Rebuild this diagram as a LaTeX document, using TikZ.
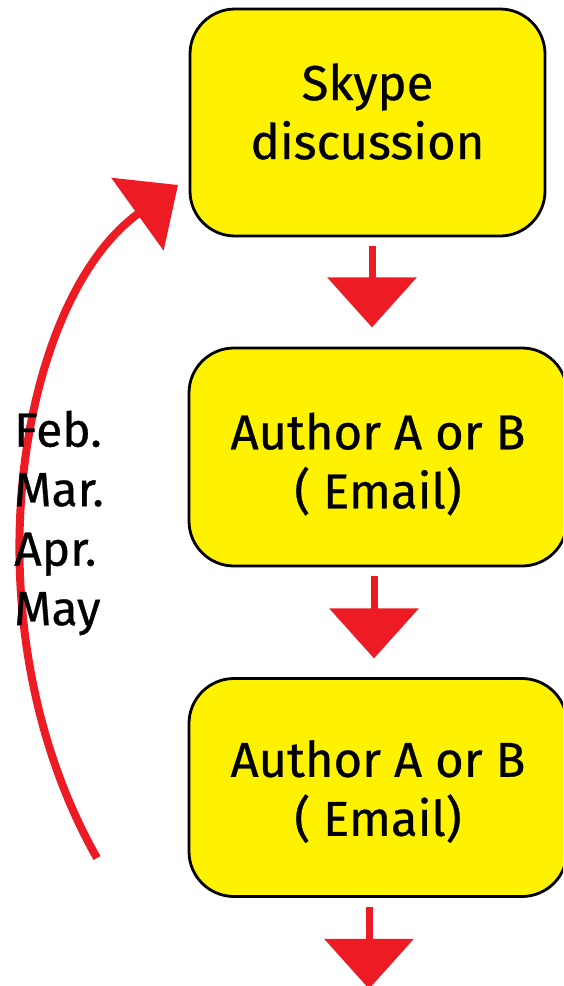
\documentclass[tikz,border=0pt]{standalone}
\usepackage{fontspec}
\setmainfont{Fira Sans}[FakeBold=0.6]
\usepackage{xcolor}
\usetikzlibrary{arrows.meta}
\definecolor{stageyellow}{HTML}{FFF200}
\definecolor{flowred}{HTML}{ED1C24}

\begin{document}
\begin{tikzpicture}[x=1pt,y=-1pt,
  stage/.style={draw=black,line width=2.8pt,fill=stageyellow,rounded corners=45pt},
  stagetext/.style={align=center,inner sep=0pt,font=\fontsize{49}{59}\selectfont},
  flow/.style={flowred,line width=7pt,-{Triangle[length=50pt,width=88pt]}}]
  \clip (0,0) rectangle (563,986);
  \node[stage,minimum width=355pt,minimum height=227pt,
    label={[stagetext,yshift=11pt]center:Skype\\discussion}] (skype) at (367.5,122.5) {};
  \node[stage,minimum width=378pt,minimum height=218pt,
    label={[stagetext,yshift=-7pt]center:Author A or B\\( Email)}] (authorA) at (378,457) {};
  \node[stage,minimum width=378pt,minimum height=218pt,
    label={[stagetext,yshift=-4pt]center:Author A or B\\( Email)}] (authorB) at (378,787.5) {};
  \draw[flow] (skype.south) ++(4.5,9) -- ++(0,81);
  \draw[flow] (authorA.south) ++(-4,9) -- ++(0,82);
  \draw[flow] (authorB.south) ++(-9,9) -- ++(0,82);
  \coordinate (loopstart) at (97,858);
  \coordinate (looptip) at (178,185);
  \draw[flow,line width=8pt] (loopstart) .. controls (-36,623) and (18,300) .. (looptip);
  \node[align=left,anchor=west,inner sep=0pt,font=\fontsize{48}{59.5}\selectfont] (months) at (14,523) {Feb.\\Mar.\\Apr.\\May};
\end{tikzpicture}
\end{document}
